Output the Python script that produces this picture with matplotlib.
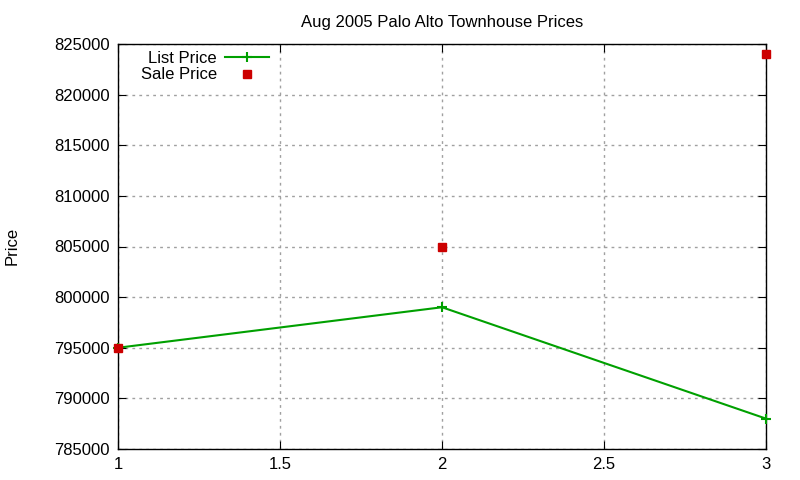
import matplotlib
matplotlib.use('Agg')
import matplotlib.pyplot as plt

plt.rcParams['font.family'] = ['Liberation Sans', 'DejaVu Sans']

x_vals = [1, 2, 3]
list_price = [795000, 799000, 788000]
sale_price = [795000, 805000, 824000]
x_ticks = [1, 1.5, 2, 2.5, 3]
y_ticks = [785000, 790000, 795000, 800000, 805000, 810000, 815000, 820000, 825000]

fig = plt.figure(figsize=(8, 4.8), dpi=100)
ax = fig.add_axes([118 / 800, 1 - 449 / 480, (766 - 118) / 800, (449 - 44) / 480])

ax.plot(x_vals, list_price, color='#00a000', linewidth=1.5, marker='+',
        markersize=7, markeredgewidth=1.5, label='List Price', clip_on=False, zorder=3)
ax.plot(x_vals, sale_price, color='#cc0000', linestyle='none', marker='s',
        markersize=6, label='Sale Price', clip_on=False, zorder=4)

ax.set_xlim(1, 3)
ax.set_ylim(785000, 825000)
ax.set_xticks(x_ticks)
ax.set_xticklabels(['1', '1.5', '2', '2.5', '3'])
ax.set_yticks(y_ticks)
ax.set_yticklabels([str(v) for v in y_ticks])
ax.tick_params(direction='in', top=True, right=True, length=6, labelsize=12, pad=6)
ax.grid(True, color='#a0a0a0', linestyle=(0, (2, 3)), linewidth=1)
for s in ax.spines.values():
    s.set_linewidth(1)

ax.set_title('Aug 2005 Palo Alto Townhouse Prices', fontsize=12, pad=12)
fig.text(12 / 800, 1 - 246 / 480, 'Price', rotation=90, fontsize=12,
         ha='center', va='center')

ax.legend(loc='upper left', bbox_to_anchor=(0.025, 1.0), markerfirst=False, frameon=False,
          fontsize=12, handlelength=2.6, borderaxespad=0.0, labelspacing=0.1,
          handletextpad=0.5)

fig.savefig('out.png', dpi=100)
